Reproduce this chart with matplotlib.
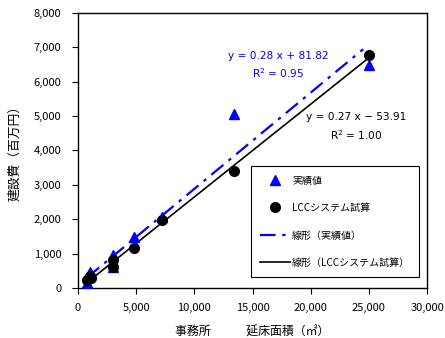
import numpy as np
import matplotlib
matplotlib.use("Agg")
import matplotlib.pyplot as plt

plt.rcParams['font.family'] = ['Noto Sans CJK JP', 'DejaVu Sans']

# 延床面積 (m2) and 建設費 (百万円)
x_actual = [800, 900, 1000, 3000, 3000, 4800, 7200, 13400, 25000]
y_actual = [150, 100, 450, 950, 600, 1480, 2050, 5050, 6480]
x_lcc = [800, 1000, 1100, 3000, 3000, 4800, 7200, 13400, 25000]
y_lcc = [230, 350, 300, 820, 620, 1170, 1980, 3400, 6770]

# trend lines as printed on the chart
slope_a, icpt_a = 0.28, 81.82
slope_l, icpt_l = 0.27, -53.91

fig = plt.figure(figsize=(4.45, 3.38), dpi=100)
ax = fig.add_axes([0.175, 0.148, 0.785, 0.814])

ax.plot(x_actual, y_actual, linestyle='none', marker='^', color='blue',
        markersize=7, label='実績値', zorder=3)
ax.plot(x_lcc, y_lcc, linestyle='none', marker='o', color='black',
        markersize=7, label='LCCシステム試算', zorder=4)

xa = np.array([min(x_actual), 24500])
ax.plot(xa, slope_a * xa + icpt_a, color='blue', lw=1.6,
        linestyle=(0, (7, 3, 1.5, 3)), label='線形（実績値）', zorder=2)
xl = np.array([min(x_lcc), max(x_lcc)])
ax.plot(xl, slope_l * xl + icpt_l, color='black', lw=1.2,
        label='線形（LCCシステム試算）', zorder=2)

ax.text(17200, 6650, 'y = 0.28 x + 81.82', color='blue', fontsize=7.6, ha='center',
        family=['DejaVu Sans'])
ax.text(17200, 6100, 'R$^2$ = 0.95', color='blue', fontsize=7.6, ha='center',
        family=['DejaVu Sans'])
ax.text(23900, 4870, 'y = 0.27 x − 53.91', color='black', fontsize=7.6, ha='center',
        family=['DejaVu Sans'])
ax.text(23900, 4300, 'R$^2$ = 1.00', color='black', fontsize=7.6, ha='center',
        family=['DejaVu Sans'])

ax.set_xlim(0, 30000)
ax.set_ylim(0, 8000)
ax.set_xticks(np.arange(0, 30001, 5000))
ax.set_yticks(np.arange(0, 8001, 1000))
ax.xaxis.set_major_formatter(matplotlib.ticker.StrMethodFormatter('{x:,.0f}'))
ax.yaxis.set_major_formatter(matplotlib.ticker.StrMethodFormatter('{x:,.0f}'))
ax.tick_params(labelsize=8, length=4, width=0.8, direction='out')
ax.tick_params(axis='x', pad=7)
ax.tick_params(axis='y', pad=8)
for s in ax.spines.values():
    s.set_linewidth(1.0)

ax.set_xlabel('事務所　　　延床面積（㎡）', fontsize=8.6, labelpad=9)
ax.set_ylabel('建設費（百万円）', fontsize=9.2, labelpad=9)

leg = ax.legend(loc='lower right', bbox_to_anchor=(0.977, 0.04), fontsize=7.2,
                frameon=True, fancybox=False, edgecolor='black', framealpha=1,
                handlelength=3.0, labelspacing=1.75, borderpad=0.9,
                borderaxespad=0, handletextpad=0.2, numpoints=1)
leg.get_frame().set_linewidth(0.8)

fig.savefig('out.png', dpi=100)
